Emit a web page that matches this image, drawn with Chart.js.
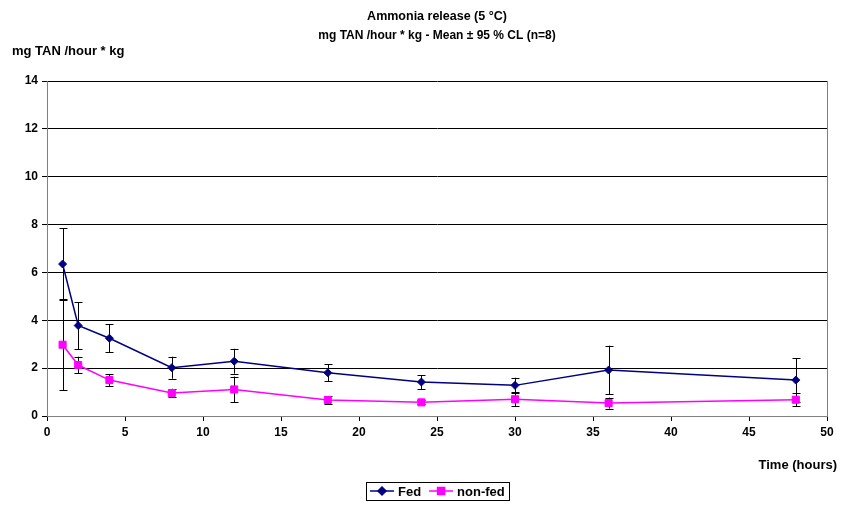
<!DOCTYPE html>
<html>
<head>
    <title>Ammonia release</title>
    <script src="https://cdn.jsdelivr.net/npm/chart.js"></script>
    <style>
        html, body { margin: 0; padding: 0; background: #fff; }
        #chart-container { width: 845px; height: 506px; }
    </style>
</head>
<body>
    <div id="chart-container">
        <canvas id="chart" width="845" height="506"></canvas>
    </div>

    <script>
        // data
        const hours = [1, 2, 4, 8, 12, 18, 24, 30, 36, 48];
        const fed = [6.35, 3.78, 3.25, 2.02, 2.29, 1.81, 1.42, 1.28, 1.92, 1.50];
        const fedCI = [1.50, 0.98, 0.58, 0.46, 0.52, 0.35, 0.29, 0.32, 1.02, 0.92];
        const nonFed = [2.98, 2.13, 1.50, 0.96, 1.11, 0.67, 0.57, 0.70, 0.54, 0.68];
        const nonFedCI = [1.90, 0.35, 0.24, 0.18, 0.54, 0.17, 0.08, 0.30, 0.23, 0.27];

        const titleLines = ['Ammonia release (5 °C)', 'mg TAN /hour * kg - Mean ± 95 % CL (n=8)'];
        const yLabel = 'mg TAN /hour * kg';
        const xLabel = 'Time (hours)';
        const seriesNames = ['Fed', 'non-fed'];

        const FONT = '"Liberation Sans", Arial, sans-serif';

        // error bars drawn from each dataset's ci array
        const errorBars = {
            id: 'errorBars',
            beforeDatasetsDraw(chart) {
                const ctx = chart.ctx;
                const xs = chart.scales.x, ys = chart.scales.y;
                ctx.save();
                ctx.strokeStyle = '#000';
                ctx.lineWidth = 1;
                chart.data.datasets.forEach(ds => {
                    ds.data.forEach((p, i) => {
                        const e = ds.ci[i];
                        const x = Math.round(xs.getPixelForValue(p.x)) + 0.5;
                        const yTop = ys.getPixelForValue(p.y + e);
                        const yBot = ys.getPixelForValue(Math.max(0, p.y - e));
                        ctx.beginPath();
                        ctx.moveTo(x, yTop);
                        ctx.lineTo(x, yBot);
                        ctx.moveTo(x - 4, Math.round(yTop) + 0.5);
                        ctx.lineTo(x + 4, Math.round(yTop) + 0.5);
                        ctx.moveTo(x - 4, Math.round(yBot) + 0.5);
                        ctx.lineTo(x + 4, Math.round(yBot) + 0.5);
                        ctx.stroke();
                    });
                });
                ctx.restore();
            }
        };

        // right border of the plot area
        const plotBorder = {
            id: 'plotBorder',
            beforeDatasetsDraw(chart) {
                const { ctx, chartArea: a } = chart;
                ctx.save();
                ctx.strokeStyle = '#808080';
                ctx.lineWidth = 1;
                ctx.beginPath();
                ctx.moveTo(Math.round(a.right) + 0.5, a.top);
                ctx.lineTo(Math.round(a.right) + 0.5, a.bottom);
                ctx.stroke();
                ctx.restore();
            }
        };

        // titles, axis labels and the boxed legend
        const texts = {
            id: 'texts',
            afterDraw(chart) {
                const { ctx, chartArea: a } = chart;
                const cx = (a.left + a.right) / 2;
                ctx.save();
                ctx.fillStyle = '#000';
                ctx.textBaseline = 'middle';
                ctx.font = 'bold 12.5px ' + FONT;
                ctx.textAlign = 'center';
                ctx.fillText(titleLines[0], cx, 17);
                ctx.font = 'bold 12px ' + FONT;
                ctx.fillText(titleLines[1], cx, 36);
                ctx.font = 'bold 13px ' + FONT;
                ctx.textAlign = 'left';
                ctx.fillText(yLabel, 12, 51);
                ctx.textAlign = 'right';
                ctx.fillText(xLabel, a.right + 10, 465);

                // legend
                ctx.font = 'bold 13px ' + FONT;
                const items = chart.data.datasets.map(ds => ({ ds, w: ctx.measureText(ds.label).width }));
                const seg = 24, gap = 4, pad = 4, spacing = 8;
                let total = pad * 2;
                items.forEach((it, i) => { total += seg + gap + it.w + (i ? spacing : 0); });
                let x = Math.round(cx - total / 2);
                const top = 482, h = 18, my = top + h / 2;
                ctx.strokeStyle = '#000';
                ctx.lineWidth = 1;
                ctx.strokeRect(x + 0.5, top + 0.5, Math.round(total), h);
                x += pad;
                ctx.textAlign = 'left';
                items.forEach((it, i) => {
                    if (i) x += spacing;
                    const ds = it.ds;
                    ctx.strokeStyle = ds.borderColor;
                    ctx.lineWidth = 1.5;
                    ctx.beginPath();
                    ctx.moveTo(x, my);
                    ctx.lineTo(x + seg, my);
                    ctx.stroke();
                    Chart.helpers.drawPoint(ctx, {
                        pointStyle: ds.pointStyle,
                        radius: ds.pointRadius,
                        borderWidth: 1
                    }, x + seg / 2, my);
                    ctx.fillStyle = ds.pointBackgroundColor;
                    ctx.strokeStyle = ds.pointBorderColor;
                    ctx.fill();
                    ctx.fillStyle = '#000';
                    ctx.fillText(ds.label, x + seg + gap, my + 1);
                    x += seg + gap + it.w;
                });
                ctx.restore();
            }
        };

        const ctx = document.getElementById('chart').getContext('2d');
        const chart = new Chart(ctx, {
            type: 'line',
            data: {
                datasets: [
                    {
                        label: seriesNames[0],
                        data: hours.map((h, i) => ({ x: h, y: fed[i] })),
                        ci: fedCI,
                        borderColor: '#000080',
                        backgroundColor: '#000080',
                        pointBackgroundColor: '#000080',
                        pointBorderColor: '#000080',
                        pointStyle: 'rectRot',
                        pointRadius: 4,
                        pointBorderWidth: 1,
                        borderWidth: 1.5,
                        tension: 0
                    },
                    {
                        label: seriesNames[1],
                        data: hours.map((h, i) => ({ x: h, y: nonFed[i] })),
                        ci: nonFedCI,
                        borderColor: '#FF00FF',
                        backgroundColor: '#FF00FF',
                        pointBackgroundColor: '#FF00FF',
                        pointBorderColor: '#FF00FF',
                        pointStyle: 'rect',
                        pointRadius: 5,
                        pointBorderWidth: 1,
                        borderWidth: 1.5,
                        tension: 0
                    }
                ]
            },
            options: {
                responsive: false,
                animation: false,
                layout: { padding: { left: 0, right: 18, top: 81, bottom: 60 } },
                plugins: {
                    legend: { display: false },
                    title: { display: false },
                    tooltip: { enabled: false }
                },
                scales: {
                    x: {
                        type: 'linear',
                        min: 0,
                        max: 50,
                        afterFit: s => { s.height = 30; },
                        ticks: {
                            stepSize: 5,
                            color: '#000',
                            padding: 4,
                            maxRotation: 0,
                            font: { family: FONT, size: 12, weight: 'bold' }
                        },
                        grid: {
                            drawOnChartArea: false,
                            drawTicks: true,
                            tickLength: 5,
                            color: '#000'
                        },
                        border: { color: '#808080', width: 1 }
                    },
                    y: {
                        type: 'linear',
                        min: 0,
                        max: 14,
                        afterFit: s => { s.width = 47; },
                        ticks: {
                            stepSize: 2,
                            color: '#000',
                            padding: 4,
                            font: { family: FONT, size: 12, weight: 'bold' }
                        },
                        grid: {
                            color: '#000',
                            lineWidth: 1,
                            tickLength: 5
                        },
                        border: { color: '#808080', width: 1 }
                    }
                }
            },
            plugins: [plotBorder, errorBars, texts]
        });
    </script>
</body>
</html>
